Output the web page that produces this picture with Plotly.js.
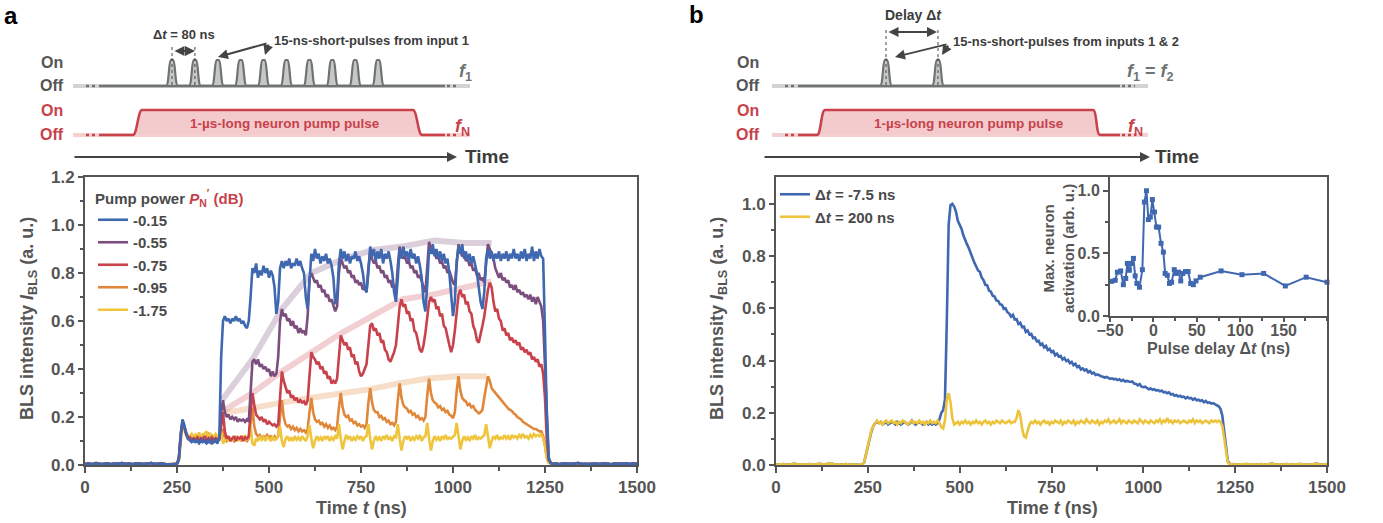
<!DOCTYPE html>
<html><head><meta charset="utf-8">
<script src="https://cdn.plot.ly/plotly-3.0.1.min.js"></script>
<style>html,body{margin:0;padding:0;background:#fff;}#chart{width:1383px;height:523px;}</style>
</head><body><div id="chart"></div>
<script>
const W = 1383, H = 523;
const FONT = 'Liberation Sans, Arial, sans-serif';
const GREY = '#555555';
const TXT = '#4a4a4a';
const RED = '#c8414b';

// ---------------- Panel a data ----------------
const pumpPowerLabels = ['-0.15', '-0.55', '-0.75', '-0.95', '-1.75'];
const pumpColors = ['#3f68b0', '#7b4e7d', '#c8414b', '#e0873a', '#efc53d'];

const tBaseLeftA = [0,10,20,30,40,50,60,70,80,90,100,110,120,130,140,150,160,170,180,190,200,210,220,230,240];
const baseLeftA = [0.004,0.006,0.003,0.008,0.005,0.004,0.007,0.003,0.006,0.005,0.008,0.004,0.006,0.003,0.007,0.005,0.004,0.006,0.008,0.004,0.005,0.006,0.003,0.005,0.004];
const tBaseRightA = [1270,1280,1290,1300,1310,1320,1330,1340,1350,1360,1370,1380,1390,1400,1410,1420,1430,1440,1450,1460,1470,1480,1490,1500];
const baseRightA = [0.004,0.006,0.003,0.007,0.005,0.004,0.006,0.008,0.004,0.005,0.003,0.006,0.005,0.004,0.007,0.005,0.003,0.006,0.004,0.005,0.007,0.004,0.006,0.005];

// samples every 5 ns starting at t = 250 ns (rows of 80 ns)
const bls015 = [
 0.005,0.02,0.12,0.19,0.165,0.13,0.11,0.10,0.095,0.10,0.095,0.10,0.09,0.10,0.095,0.10,
 0.09,0.095,0.10,0.09,0.095,0.10,0.09,0.12,0.45,0.60,0.62,0.60,0.61,0.59,0.61,0.60,
 0.62,0.60,0.61,0.59,0.60,0.58,0.57,0.60,0.70,0.82,0.80,0.84,0.78,0.81,0.79,0.83,
 0.80,0.82,0.78,0.81,0.79,0.74,0.63,0.68,0.82,0.85,0.82,0.85,0.83,0.86,0.82,0.84,
 0.83,0.86,0.83,0.85,0.82,0.80,0.70,0.65,0.76,0.88,0.85,0.90,0.86,0.88,0.84,0.87,
 0.85,0.88,0.84,0.86,0.83,0.78,0.67,0.70,0.84,0.90,0.86,0.89,0.85,0.88,0.84,0.87,
 0.86,0.89,0.85,0.87,0.84,0.80,0.74,0.72,0.80,0.91,0.87,0.90,0.85,0.89,0.86,0.90,
 0.84,0.88,0.86,0.89,0.85,0.80,0.72,0.68,0.78,0.90,0.86,0.91,0.87,0.89,0.85,0.90,
 0.86,0.88,0.84,0.87,0.83,0.78,0.68,0.64,0.75,0.90,0.88,0.92,0.87,0.90,0.86,0.89,
 0.85,0.88,0.84,0.86,0.80,0.70,0.62,0.68,0.85,0.91,0.88,0.92,0.86,0.89,0.85,0.88,
 0.84,0.87,0.83,0.80,0.74,0.68,0.65,0.72,0.86,0.90,0.86,0.89,0.85,0.88,0.86,0.89,
 0.85,0.88,0.86,0.89,0.85,0.88,0.86,0.90,0.86,0.88,0.85,0.89,0.86,0.90,0.85,0.88,
 0.86,0.91,0.85,0.89,0.86,0.90,0.87,0.86,0.55,0.20,0.03,0.01];
const bls055 = [
 0.005,0.03,0.13,0.185,0.16,0.13,0.11,0.105,0.10,0.11,0.10,0.105,0.095,0.11,0.10,0.105,
 0.10,0.11,0.095,0.105,0.10,0.11,0.10,0.105,0.22,0.27,0.22,0.20,0.21,0.19,0.20,0.19,
 0.20,0.18,0.19,0.185,0.19,0.18,0.19,0.18,0.30,0.43,0.44,0.42,0.44,0.41,0.42,0.40,
 0.41,0.39,0.40,0.37,0.39,0.37,0.38,0.45,0.60,0.65,0.62,0.63,0.60,0.61,0.58,0.60,
 0.57,0.58,0.55,0.57,0.55,0.56,0.54,0.62,0.78,0.80,0.78,0.76,0.77,0.74,0.75,0.72,
 0.73,0.70,0.71,0.68,0.69,0.66,0.64,0.66,0.80,0.86,0.84,0.82,0.83,0.80,0.81,0.78,
 0.79,0.76,0.77,0.75,0.76,0.73,0.74,0.72,0.82,0.89,0.86,0.84,0.85,0.82,0.83,0.80,
 0.81,0.78,0.79,0.76,0.77,0.74,0.75,0.72,0.83,0.91,0.88,0.86,0.87,0.84,0.85,0.82,
 0.83,0.80,0.81,0.78,0.79,0.76,0.74,0.72,0.84,0.93,0.90,0.88,0.89,0.86,0.87,0.84,
 0.85,0.82,0.83,0.80,0.81,0.78,0.76,0.75,0.85,0.92,0.89,0.87,0.88,0.85,0.86,0.83,
 0.84,0.81,0.82,0.79,0.80,0.77,0.78,0.76,0.84,0.92,0.90,0.88,0.86,0.82,0.80,0.78,
 0.80,0.77,0.78,0.76,0.77,0.74,0.75,0.73,0.75,0.72,0.73,0.71,0.72,0.70,0.71,0.69,
 0.71,0.68,0.70,0.67,0.70,0.68,0.66,0.60,0.40,0.15,0.03,0.01];
const bls075 = [
 0.005,0.03,0.12,0.18,0.16,0.125,0.11,0.115,0.10,0.11,0.105,0.115,0.10,0.11,0.105,0.12,
 0.10,0.11,0.10,0.115,0.105,0.11,0.10,0.11,0.16,0.22,0.14,0.11,0.12,0.10,0.11,0.12,
 0.10,0.115,0.11,0.12,0.10,0.115,0.11,0.12,0.22,0.30,0.25,0.21,0.20,0.19,0.20,0.18,
 0.19,0.17,0.18,0.17,0.165,0.17,0.16,0.17,0.30,0.39,0.35,0.32,0.30,0.31,0.28,0.29,
 0.27,0.28,0.26,0.27,0.26,0.265,0.25,0.27,0.38,0.47,0.45,0.44,0.42,0.43,0.40,0.41,
 0.38,0.39,0.36,0.37,0.34,0.35,0.34,0.36,0.45,0.54,0.52,0.50,0.51,0.48,0.49,0.45,
 0.46,0.42,0.43,0.39,0.37,0.38,0.40,0.42,0.50,0.58,0.59,0.56,0.57,0.54,0.55,0.51,
 0.52,0.48,0.47,0.44,0.43,0.45,0.47,0.50,0.58,0.66,0.69,0.66,0.67,0.63,0.64,0.60,
 0.61,0.56,0.55,0.51,0.48,0.47,0.50,0.55,0.62,0.68,0.70,0.68,0.69,0.65,0.66,0.62,
 0.63,0.58,0.57,0.53,0.50,0.47,0.50,0.56,0.64,0.71,0.73,0.70,0.71,0.67,0.68,0.64,
 0.63,0.58,0.56,0.52,0.51,0.54,0.58,0.62,0.68,0.73,0.76,0.74,0.68,0.64,0.65,0.61,
 0.60,0.56,0.57,0.54,0.55,0.52,0.53,0.51,0.52,0.50,0.51,0.48,0.49,0.47,0.48,0.46,
 0.47,0.44,0.45,0.43,0.44,0.41,0.42,0.38,0.28,0.10,0.02,0.01];
const bls095 = [
 0.006,0.02,0.11,0.17,0.15,0.13,0.12,0.11,0.12,0.115,0.125,0.11,0.12,0.115,0.125,0.11,
 0.12,0.13,0.115,0.12,0.11,0.125,0.115,0.12,0.13,0.15,0.11,0.10,0.11,0.105,0.11,0.10,
 0.115,0.105,0.11,0.10,0.12,0.11,0.10,0.11,0.17,0.24,0.16,0.13,0.12,0.125,0.11,0.12,
 0.115,0.125,0.115,0.12,0.11,0.12,0.11,0.12,0.20,0.27,0.20,0.17,0.16,0.165,0.15,0.16,
 0.145,0.155,0.14,0.15,0.14,0.145,0.135,0.15,0.22,0.28,0.22,0.19,0.18,0.185,0.17,0.175,
 0.16,0.17,0.155,0.165,0.15,0.155,0.145,0.16,0.24,0.30,0.24,0.21,0.20,0.205,0.185,0.19,
 0.175,0.18,0.165,0.17,0.16,0.165,0.155,0.17,0.26,0.32,0.26,0.23,0.22,0.22,0.20,0.205,
 0.19,0.195,0.18,0.185,0.17,0.175,0.165,0.18,0.27,0.34,0.28,0.25,0.24,0.235,0.22,0.225,
 0.21,0.215,0.20,0.205,0.19,0.195,0.185,0.20,0.29,0.36,0.30,0.27,0.26,0.255,0.24,0.245,
 0.23,0.235,0.22,0.225,0.21,0.205,0.195,0.22,0.31,0.37,0.31,0.28,0.27,0.265,0.25,0.255,
 0.24,0.245,0.23,0.22,0.215,0.22,0.23,0.28,0.33,0.37,0.35,0.32,0.31,0.30,0.29,0.28,
 0.27,0.265,0.25,0.245,0.235,0.23,0.225,0.215,0.21,0.20,0.195,0.19,0.18,0.175,0.17,0.165,
 0.16,0.155,0.15,0.15,0.145,0.14,0.14,0.12,0.08,0.03,0.01,0.005];
const bls175 = [
 0.005,0.02,0.11,0.16,0.15,0.13,0.125,0.12,0.13,0.115,0.125,0.12,0.135,0.12,0.125,0.13,
 0.14,0.12,0.13,0.125,0.115,0.13,0.12,0.125,0.14,0.09,0.10,0.12,0.10,0.115,0.10,0.12,
 0.105,0.115,0.10,0.12,0.11,0.12,0.105,0.12,0.16,0.09,0.08,0.11,0.10,0.12,0.105,0.115,
 0.10,0.12,0.11,0.10,0.12,0.105,0.11,0.12,0.16,0.10,0.075,0.11,0.12,0.10,0.115,0.10,
 0.12,0.105,0.115,0.10,0.12,0.11,0.10,0.12,0.165,0.11,0.07,0.10,0.12,0.105,0.115,0.10,
 0.12,0.11,0.12,0.10,0.115,0.105,0.12,0.11,0.17,0.11,0.065,0.10,0.125,0.11,0.12,0.10,
 0.115,0.105,0.12,0.11,0.12,0.10,0.115,0.12,0.17,0.11,0.065,0.10,0.12,0.105,0.115,0.10,
 0.12,0.11,0.125,0.105,0.115,0.10,0.12,0.115,0.17,0.11,0.06,0.10,0.12,0.11,0.12,0.10,
 0.115,0.105,0.12,0.11,0.125,0.10,0.115,0.12,0.175,0.11,0.06,0.10,0.12,0.105,0.115,0.10,
 0.12,0.11,0.125,0.105,0.115,0.11,0.12,0.125,0.175,0.11,0.065,0.10,0.12,0.105,0.115,0.10,
 0.12,0.11,0.125,0.105,0.115,0.11,0.12,0.125,0.17,0.11,0.07,0.10,0.12,0.11,0.125,0.105,
 0.115,0.11,0.125,0.11,0.12,0.105,0.125,0.115,0.12,0.11,0.125,0.115,0.13,0.115,0.12,0.11,
 0.125,0.115,0.13,0.12,0.125,0.12,0.13,0.11,0.08,0.03,0.01,0.005];

// translucent guide lines through the spike maxima
const guidePurpleT = [372,455,535,615,697,780,860,950,1030,1105];
const guidePurpleV = [0.27,0.44,0.65,0.80,0.855,0.895,0.91,0.935,0.925,0.925];
const guideRedT = [375,455,535,615,697,780,862,945,1025,1105];
const guideRedV = [0.225,0.30,0.39,0.47,0.55,0.62,0.69,0.71,0.735,0.765];
const guideOrangeT = [375,455,535,615,693,772,852,932,1012,1092];
const guideOrangeV = [0.215,0.24,0.26,0.28,0.295,0.315,0.34,0.36,0.37,0.37];

// ---------------- Panel b data ----------------
const delayLabels = ['Δ<i>t</i> = -7.5 ns', 'Δ<i>t</i> = 200 ns'];
const delayColors = ['#3f68b0', '#eec33c'];
const tBaseLeftB = [0,10,20,30,40,50,60,70,80,90,100,110,120,130,140,150,160,170,180,190,200,210,220];
const baseLeftB = [0.003,0.002,0.004,0.001,0.003,0.005,0.002,0.003,0.001,0.004,0.002,0.003,0.005,0.002,0.003,0.006,0.002,0.003,0.001,0.004,0.002,0.003,0.002];
const tBaseRightB = [1260,1270,1280,1290,1300,1310,1320,1330,1340,1350,1360,1370,1380,1390,1400,1410,1420,1430,1440,1450,1460,1470,1480,1490,1500];
const baseRightB = [0.003,0.002,0.004,0.002,0.003,0.001,0.004,0.002,0.003,0.005,0.002,0.003,0.001,0.004,0.002,0.003,0.002,0.004,0.001,0.003,0.002,0.005,0.003,0.002,0.004];
// samples every 5 ns starting at t = 230 ns
const blsDelayNeg = [
 0.0,0.003,0.01,0.04,0.08,0.11,0.13,0.15,0.16,0.165,0.16,0.165,0.155,0.16,0.165,0.155,
 0.16,0.165,0.16,0.155,0.165,0.16,0.155,0.16,0.165,0.16,0.155,0.16,0.17,0.16,0.155,0.16,
 0.165,0.16,0.155,0.16,0.165,0.155,0.16,0.155,0.16,0.155,0.16,0.175,0.20,0.21,0.25,0.55,
 0.92,0.995,1.0,0.99,0.97,0.935,0.92,0.905,0.88,0.86,0.845,0.83,0.81,0.795,0.775,0.76,
 0.745,0.74,0.718,0.708,0.69,0.688,0.668,0.664,0.648,0.645,0.63,0.628,0.615,0.614,0.598,0.60,
 0.585,0.58,0.568,0.575,0.557,0.558,0.54,0.545,0.528,0.53,0.51,0.515,0.50,0.502,0.486,0.488,
 0.474,0.476,0.46,0.465,0.45,0.456,0.44,0.445,0.432,0.436,0.42,0.426,0.415,0.418,0.404,0.41,
 0.398,0.402,0.39,0.395,0.382,0.388,0.375,0.379,0.366,0.37,0.362,0.366,0.355,0.36,0.35,0.354,
 0.345,0.347,0.342,0.34,0.338,0.335,0.337,0.333,0.33,0.332,0.328,0.33,0.325,0.328,0.322,0.326,
 0.32,0.322,0.32,0.318,0.32,0.312,0.31,0.305,0.31,0.30,0.298,0.30,0.295,0.29,0.293,0.288,
 0.29,0.285,0.287,0.282,0.285,0.278,0.28,0.275,0.278,0.27,0.272,0.265,0.268,0.262,0.265,0.26,
 0.262,0.255,0.26,0.255,0.257,0.25,0.255,0.248,0.25,0.245,0.248,0.24,0.245,0.238,0.24,0.235,
 0.237,0.232,0.23,0.225,0.215,0.19,0.13,0.06,0.015,0.005,0.003,0.004,0.002];
const blsDelay200 = [
 0.0,0.003,0.01,0.04,0.08,0.11,0.135,0.15,0.16,0.17,0.16,0.165,0.155,0.165,0.17,0.16,
 0.165,0.17,0.16,0.165,0.155,0.165,0.16,0.17,0.165,0.16,0.155,0.165,0.17,0.16,0.165,0.16,
 0.17,0.16,0.165,0.155,0.165,0.16,0.17,0.16,0.165,0.16,0.17,0.16,0.145,0.14,0.17,0.25,
 0.275,0.24,0.18,0.155,0.16,0.165,0.155,0.165,0.16,0.17,0.16,0.165,0.155,0.165,0.16,0.17,
 0.16,0.165,0.155,0.165,0.17,0.16,0.165,0.155,0.165,0.16,0.17,0.165,0.16,0.17,0.165,0.16,
 0.165,0.17,0.16,0.165,0.165,0.18,0.21,0.19,0.14,0.11,0.105,0.13,0.155,0.165,0.16,0.17,
 0.16,0.165,0.155,0.165,0.17,0.16,0.165,0.155,0.165,0.16,0.17,0.165,0.16,0.17,0.155,0.165,
 0.16,0.17,0.165,0.16,0.17,0.155,0.165,0.16,0.17,0.165,0.16,0.175,0.165,0.16,0.17,0.165,
 0.16,0.17,0.155,0.165,0.16,0.17,0.165,0.175,0.16,0.165,0.17,0.16,0.165,0.175,0.16,0.17,
 0.165,0.16,0.17,0.165,0.16,0.17,0.165,0.16,0.175,0.165,0.16,0.17,0.165,0.16,0.17,0.165,
 0.16,0.17,0.165,0.175,0.16,0.17,0.165,0.18,0.165,0.17,0.16,0.17,0.165,0.17,0.16,0.165,
 0.17,0.165,0.16,0.17,0.165,0.175,0.16,0.17,0.165,0.17,0.16,0.165,0.17,0.165,0.16,0.17,
 0.165,0.17,0.165,0.17,0.165,0.15,0.10,0.04,0.01,0.003,0.004,0.003,0.002];

// inset: max neuron activation vs pulse delay
const pulseDelay = [-48,-44,-41.5,-37.7,-34.6,-31.9,-30,-27.7,-25,-23,-21,-19,-16,-12.7,-10.4,-8,-5.8,-3.5,-1.2,1.2,3.5,6,8.8,11.5,13.5,16,18.5,21,24,26,29,31.5,34,37,40,43,46,49,54,78,102,127,152,176,200];
const maxActivation = [0.277,0.285,0.35,0.36,0.25,0.30,0.42,0.365,0.42,0.46,0.32,0.26,0.23,0.37,0.91,1.0,0.77,0.79,0.93,0.83,0.71,0.71,0.58,0.51,0.34,0.325,0.26,0.27,0.37,0.34,0.35,0.28,0.34,0.355,0.355,0.26,0.25,0.28,0.31,0.36,0.33,0.34,0.24,0.31,0.27];

// schematic pulse trains
const shortPulsesA = [0,80,160,240,320,400,480,560,640,720]; // ns, Δt = 80 ns
const shortPulsesB = [0, 180];                               // ns, delay Δt

// ---------------- helpers ----------------
function grid(start, step, n){ const a=[]; for(let i=0;i<n;i++) a.push(start+step*i); return a; }
const bx = v => v / W, by = v => 1 - v / H;
function P(x,y){ return bx(x).toFixed(5)+','+by(y).toFixed(5); }
function pathStr(cmds){
  return cmds.map(c => { let s=c[0]; const n=c.slice(1); const parts=[]; for(let i=0;i<n.length;i+=2) parts.push(P(n[i],n[i+1])); return s+parts.join(' '); }).join(' ');
}
function lineShape(x0,y0,x1,y1,color,width,dash){
  return {type:'line',xref:'paper',yref:'paper',x0:bx(x0),y0:by(y0),x1:bx(x1),y1:by(y1),line:{color:color,width:width,dash:dash||'solid'}};
}
function pathShape(cmds,color,width,fill){
  return {type:'path',xref:'paper',yref:'paper',path:pathStr(cmds),line:{color:color,width:width},fillcolor:fill||'rgba(0,0,0,0)'};
}
function txt(text,x,y,size,color,opts){
  return Object.assign({text:text,x:bx(x),y:by(y),xref:'paper',yref:'paper',showarrow:false,xanchor:'center',yanchor:'middle',
    font:{family:FONT,size:size,color:color,weight:'bold'}},opts||{});
}
function arrow(x0,y0,x1,y1,both){
  return {text:'',x:bx(x1),y:by(y1),xref:'paper',yref:'paper',ax:x0-x1,ay:y0-y1,axref:'pixel',ayref:'pixel',showarrow:true,
    arrowhead:2,arrowsize:1,arrowwidth:2,arrowcolor:'#444',standoff:0,startstandoff:0,arrowside:both?'end+start':'end',startarrowhead:2};
}

// ---------------- traces ----------------
const traces = [];
const tA = n => tBaseLeftA.concat(grid(250,5,n), tBaseRightA);
const vA = arr => baseLeftA.concat(arr, baseRightA);

[[guidePurpleT,guidePurpleV,'rgba(123,78,125,0.27)'],[guideRedT,guideRedV,'rgba(200,65,75,0.25)'],[guideOrangeT,guideOrangeV,'rgba(224,135,58,0.28)']]
 .forEach(g => traces.push({x:g[0],y:g[1],type:'scatter',mode:'lines',line:{color:g[2],width:6},showlegend:false,xaxis:'x',yaxis:'y',hoverinfo:'skip'}));

const seriesA = [bls015, bls055, bls075, bls095, bls175];
const drawOrder = [3,4,2,1,0];
drawOrder.forEach(i => {
  traces.push({x:tA(seriesA[i].length),y:vA(seriesA[i]),type:'scatter',mode:'lines',name:pumpPowerLabels[i],
    line:{color:pumpColors[i],width:2.6},xaxis:'x',yaxis:'y',legend:'legend',legendrank:i+1});
});

const tB = n => tBaseLeftB.concat(grid(230,5,n), tBaseRightB);
const vB = arr => baseLeftB.concat(arr, baseRightB);
[blsDelayNeg, blsDelay200].forEach((arr,i) => {
  traces.push({x:tB(arr.length),y:vB(arr),type:'scatter',mode:'lines',name:delayLabels[i],
    line:{color:delayColors[i],width:2.6},xaxis:'x2',yaxis:'y2',legend:'legend2',legendrank:i+1});
});

traces.push({x:pulseDelay,y:maxActivation,type:'scatter',mode:'lines+markers',showlegend:false,
  line:{color:'#3f68b0',width:2},marker:{symbol:'square',size:5,color:'#3f68b0'},xaxis:'x3',yaxis:'y3',cliponaxis:false});

// ---------------- axes ----------------
const tickFont = {family:FONT,size:17,color:GREY,weight:'bold'};
function axisBase(extra){
  return Object.assign({showline:true,linewidth:2,linecolor:GREY,mirror:true,ticks:'outside',ticklen:6,tickwidth:2,tickcolor:GREY,
    showgrid:false,zeroline:false,tickfont:tickFont,fixedrange:true},extra);
}
const layout = {
  width:W,height:H,margin:{l:0,r:0,t:0,b:0},paper_bgcolor:'#ffffff',plot_bgcolor:'rgba(0,0,0,0)',
  font:{family:FONT,color:GREY},
  xaxis: axisBase({domain:[85/W,637/W],anchor:'y',range:[0,1500],tickvals:[0,250,500,750,1000,1250,1500],
    minor:{tickvals:[125,375,625,875,1125,1375],ticklen:4,tickwidth:2,tickcolor:GREY,ticks:'outside'}}),
  yaxis: axisBase({domain:[1-465/H,1-177/H],anchor:'x',range:[0,1.2],tickvals:[0,0.2,0.4,0.6,0.8,1.0,1.2],tickformat:'.1f',ticklen:5,
    minor:{tickvals:[0.1,0.3,0.5,0.7,0.9,1.1],ticklen:3,tickwidth:2,tickcolor:GREY,ticks:'outside'}}),
  xaxis2: axisBase({domain:[776/W,1327/W],anchor:'y2',range:[0,1500],tickvals:[0,250,500,750,1000,1250,1500],
    minor:{tickvals:[125,375,625,875,1125,1375],ticklen:4,tickwidth:2,tickcolor:GREY,ticks:'outside'}}),
  yaxis2: axisBase({domain:[1-465/H,1-177/H],anchor:'x2',range:[0,1.103],tickvals:[0,0.2,0.4,0.6,0.8,1.0],tickformat:'.1f',ticklen:5,
    minor:{tickvals:[0.1,0.3,0.5,0.7,0.9],ticklen:3,tickwidth:2,tickcolor:GREY,ticks:'outside'}}),
  xaxis3: axisBase({domain:[1110/W,1327/W],anchor:'y3',range:[-50,200],tickvals:[-50,0,50,100,150],ticklen:4,ticklabelstandoff:-5,
    tickfont:{family:FONT,size:16,color:GREY,weight:'bold'},
    minor:{tickvals:[-25,25,75,125,175,200],ticklen:3,tickwidth:2,tickcolor:GREY,ticks:'outside'}}),
  yaxis3: axisBase({domain:[1-316/H,1-177/H],anchor:'x3',range:[0,1.11],tickvals:[0,0.5,1.0],tickformat:'.1f',ticklen:5,
    tickfont:{family:FONT,size:16,color:GREY,weight:'bold'},
    minor:{tickvals:[0.25,0.75],ticklen:3,tickwidth:2,tickcolor:GREY,ticks:'outside'}}),
  legend:{x:bx(93),y:by(184),xanchor:'left',yanchor:'top',bgcolor:'rgba(0,0,0,0)',font:{family:FONT,size:15,color:TXT,weight:'bold'},
    itemwidth:30,tracegroupgap:0,traceorder:'normal',
    title:{text:'Pump power <span style="color:#c8414b"><i>P</i><sub>N</sub><sup>′</sup> (dB)</span>',font:{family:FONT,size:15,color:TXT,weight:'bold'}}},
  legend2:{x:bx(775),y:by(178),xanchor:'left',yanchor:'top',bgcolor:'rgba(0,0,0,0)',font:{family:FONT,size:15,color:TXT,weight:'bold'},
    itemwidth:30,tracegroupgap:0,traceorder:'normal'},
  shapes:[], annotations:[]
};

// axis titles
const A = layout.annotations, S = layout.shapes;
A.push(txt('Time <i>t</i> (ns)',361,508,18,GREY));
A.push(txt('Time <i>t</i> (ns)',1052,508,18,GREY));
A.push(txt('BLS intensity <i>I</i><sub>BLS</sub> (a. u.)',28,319,18,GREY,{textangle:-90}));
A.push(txt('BLS intensity <i>I</i><sub>BLS</sub> (a. u.)',718,319,18,GREY,{textangle:-90}));
A.push(txt('Pulse delay Δ<i>t</i> (ns)',1218,348,16,GREY));
A.push(txt('Max. neuron<br>activation (arb. u.)',1058,249,15,GREY,{textangle:-90}));

// panel letters
A.push(txt('a',11,16,24,'#000'));
A.push(txt('b',696,15,24,'#000'));

// ---------------- schematics ----------------
function schematic(o){
  S.push(lineShape(o.x0,86,o.x1,86,'#d2d4d3',4));
  S.push(lineShape(o.d0,86,o.d1,86,'#6f7473',2.5));
  S.push(lineShape(o.x0+13,86,o.d0-2,86,'#6f7473',2.5,'dot'));
  S.push(lineShape(o.d1+2,86,o.x1-13,86,'#6f7473',2.5,'dot'));
  o.pulses.forEach((c,k) => {
    if (o.dotted.indexOf(k) >= 0) S.push(lineShape(c,o.dotTop,c,87,'#444',1,'dot'));
    S.push(pathShape([['M',c-6,86],['C',c-3,86,c-3.2,60,c-1.3,60],['L',c+1.3,60],['C',c+3.2,60,c+3,86,c+6,86],['Z']],'#6f7473',2.2,'#c6c8c7'));
    if (o.dotted.indexOf(k) >= 0) S.push(lineShape(c,58,c,87,'#444',1,'dot'));
  });
  S.push(lineShape(o.x0,135,o.x1,135,'#f4d0d1',4));
  S.push(pathShape([['M',o.r0,135],['C',o.r0+4,135,o.r1-4,110,o.r1,110],['L',o.f0,110],['C',o.f0+4,110,o.f1-4,135,o.f1,135],['Z']],'rgba(0,0,0,0)',0,'#f3cbcc'));
  S.push(pathShape([['M',o.d0,135],['L',o.r0,135],['C',o.r0+4,135,o.r1-4,110,o.r1,110],['L',o.f0,110],['C',o.f0+4,110,o.f1-4,135,o.f1,135],['L',o.d1,135]],RED,2.5));
  S.push(lineShape(o.x0+13,135,o.d0-2,135,RED,2.5,'dot'));
  S.push(lineShape(o.d1+2,135,o.x1-13,135,RED,2.5,'dot'));
  A.push(txt('On',o.lab,62,16,GREY)); A.push(txt('Off',o.lab,86,16,GREY));
  A.push(txt('On',o.lab,110,16,RED)); A.push(txt('Off',o.lab,135,16,RED));
  A.push(txt('1-µs-long neuron pump pulse',o.pumpTextX,123,13.5,RED));
  A.push(arrow(o.ta0,157,o.ta1,157,false));
  A.push(txt('Time',o.timeX,156,19,'#3c3c3c'));
}

const sa = 22.9/80;
schematic({x0:73,x1:470,d0:99,d1:445,r0:133,r1:142,f0:413,f1:422,lab:52,pumpTextX:285,ta0:73,ta1:457,timeX:487,
  pulses:shortPulsesA.map(t => 172 + t*sa), dotted:[0,1], dotTop:47});
const sb = 52/180;
schematic({x0:772,x1:1148,d0:798,d1:1120,r0:817,r1:825,f0:1093,f1:1100,lab:748,pumpTextX:969,ta0:763,ta1:1150,timeX:1177,
  pulses:shortPulsesB.map(t => 886 + t*sb), dotted:[0,1], dotTop:30});

// panel a schematic texts
A.push(txt('Δ<i>t</i> = 80 ns',184,35,13,'#3c3c3c'));
A.push(arrow(173,51,195,51,true));
A.push(txt('15-ns-short-pulses from input 1',371,41,13,'#3c3c3c'));
A.push(arrow(268,43,218,57,false));
A.push(arrow(269,43,265,55,false));
A.push(txt('<i>f</i><sub>1</sub>',465,72,18,'#6f7473'));
A.push(txt('<i>f</i><sub>N</sub>',463,127,18,RED));

// panel b schematic texts
A.push(txt('Delay Δ<i>t</i>',913,15,14,'#3c3c3c'));
A.push(arrow(887,32,937,32,true));
A.push(txt('15-ns-short-pulses from inputs 1 & 2',1066,42,13,'#3c3c3c'));
A.push(arrow(948,44,895,57,false));
A.push(arrow(949,44,942,55,false));
A.push(txt('<i>f</i><sub>1</sub> = <i>f</i><sub>2</sub>',1150,72,18,'#6f7473'));
A.push(txt('<i>f</i><sub>N</sub>',1135,127,18,RED));

Plotly.newPlot('chart', traces, layout, {displayModeBar:false, staticPlot:true});
</script></body></html>
